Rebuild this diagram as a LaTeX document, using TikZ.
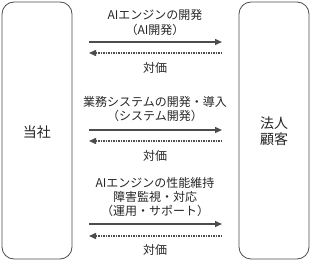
\documentclass[tikz,border=0pt]{standalone}
\usepackage{fontspec}
\newfontfamily\jp{Noto Sans CJK JP}
\usetikzlibrary{arrows.meta}
\begin{document}
\begin{tikzpicture}[x=1pt,y=-1pt,
  party/.style={draw=black!70,line width=0.8pt,rounded corners=12pt,minimum width=70pt,minimum height=257pt,inner sep=0pt},
  lbl/.style={font=\jp\fontsize{12}{14.2}\selectfont,align=center,inner sep=0pt,text=black!85},
  big/.style={font=\jp\fontsize{14}{16.5}\selectfont,align=center,inner sep=0pt,text=black!85},
  flow/.style={draw=black!70,line width=1.3pt,-{Triangle[length=7pt,width=6pt]}},
  pay/.style={draw=black!70,line width=1.5pt,dash pattern=on 1.2pt off 1.3pt,-{Triangle[length=7pt,width=6pt]}}]
\useasboundingbox (0,0) rectangle (311,262);
\node[party] (L) at (37,130.5) {};
\node[party] (R) at (274,130.5) {};
\node[big] (Lt) at (37,132) {当社};
\node[big] (Rt) at (274,131) {法人\\顧客};
% group 1
\coordinate (a1) at (89,42); \coordinate (b1) at (222,42);
\coordinate (a2) at (222,53); \coordinate (b2) at (89,53);
\draw[flow] (a1) -- (b1);
\draw[pay] (a2) -- (b2);
\node[lbl] (t1) at (155,22.5) {AIエンジンの開発\\（AI開発）};
\node[lbl] (p1) at (155,68) {対価};
% group 2
\coordinate (c1) at (89,130); \coordinate (d1) at (222,130);
\coordinate (c2) at (222,141); \coordinate (d2) at (89,141);
\draw[flow] (c1) -- (d1);
\draw[pay] (c2) -- (d2);
\node[lbl] (t2) at (155,109) {業務システムの開発・導入\\（システム開発）};
\node[lbl] (p2) at (155,156) {対価};
% group 3
\coordinate (e1) at (89,224); \coordinate (f1) at (222,224);
\coordinate (e2) at (222,236); \coordinate (f2) at (89,236);
\draw[flow] (e1) -- (f1);
\draw[pay] (e2) -- (f2);
\node[lbl] (t3) at (155,197) {AIエンジンの性能維持\\障害監視・対応\\（運用・サポート）};
\node[lbl] (p3) at (155,250) {対価};
\end{tikzpicture}
\end{document}
